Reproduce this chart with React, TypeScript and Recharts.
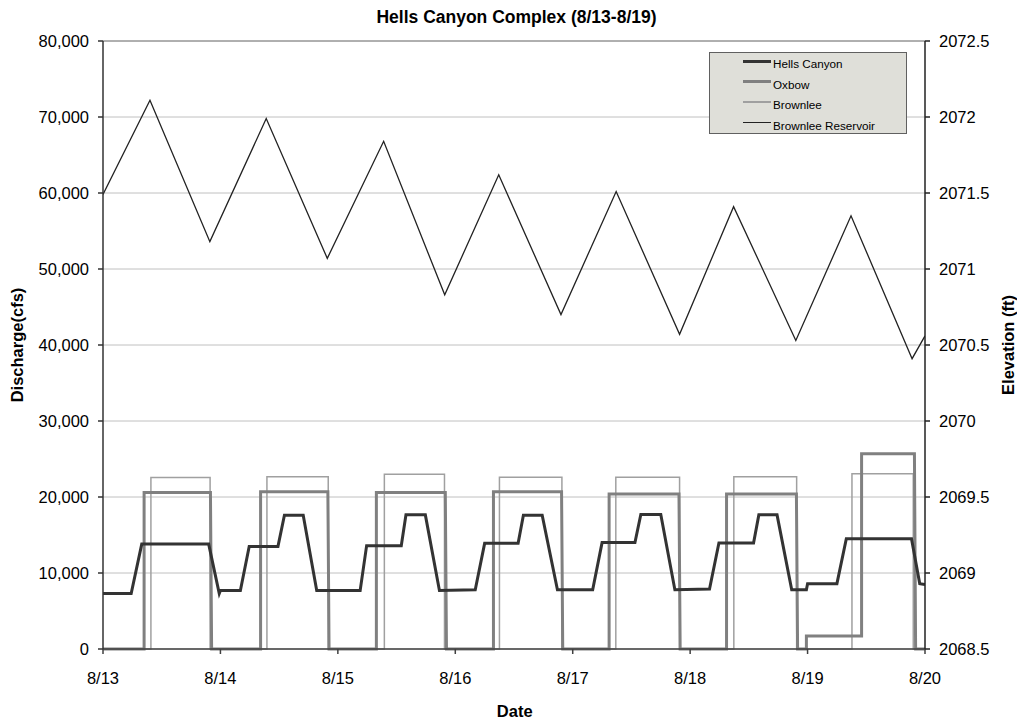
import { LineChart, Line, XAxis, YAxis, CartesianGrid, Legend, ReferenceLine } from 'recharts';

// time is in days from 8/13 00:00
const dateLabels = ['8/13', '8/14', '8/15', '8/16', '8/17', '8/18', '8/19', '8/20'];
const dayTicks = [0, 1, 2, 3, 4, 5, 6, 7];
const cfsTicks = [0, 10000, 20000, 30000, 40000, 50000, 60000, 70000, 80000];
const elevTicks = [2068.5, 2069, 2069.5, 2070, 2070.5, 2071, 2071.5, 2072, 2072.5];

const hellsCanyonTime = [0, 0.24, 0.33, 0.9, 0.99, 1.0, 1.17, 1.245, 1.49, 1.545, 1.705, 1.82, 2.19, 2.245, 2.54, 2.58, 2.745, 2.865, 3.17, 3.25, 3.535, 3.58, 3.74, 3.87, 4.17, 4.25, 4.53, 4.58, 4.75, 4.87, 5.165, 5.245, 5.54, 5.585, 5.74, 5.865, 5.99, 6.0, 6.25, 6.33, 6.885, 6.955, 7.0];
const hellsCanyonCfs = [7300, 7300, 13800, 13800, 7300, 7700, 7700, 13500, 13500, 17600, 17600, 7700, 7700, 13600, 13600, 17650, 17650, 7700, 7800, 13900, 13900, 17600, 17600, 7800, 7800, 14000, 14000, 17700, 17700, 7800, 7900, 13950, 13950, 17650, 17650, 7800, 7800, 8600, 8600, 14500, 14500, 8600, 8500];

const oxbowTime = [0, 0.35, 0.35, 0.915, 0.925, 1.342, 1.342, 1.915, 1.925, 2.328, 2.328, 2.915, 2.925, 3.325, 3.325, 3.905, 3.915, 4.31, 4.31, 4.905, 4.915, 5.31, 5.31, 5.905, 5.915, 5.99, 5.99, 6.46, 6.46, 6.91, 6.92, 7.0];
const oxbowCfs = [0, 0, 20600, 20600, 0, 0, 20700, 20700, 0, 0, 20600, 20600, 0, 0, 20700, 20700, 0, 0, 20400, 20400, 0, 0, 20400, 20400, 0, 0, 1700, 1700, 25700, 25700, 0, 0];

const brownleeTime = [0, 0.408, 0.408, 0.912, 0.912, 1.396, 1.396, 1.918, 1.918, 2.396, 2.396, 2.908, 2.908, 3.376, 3.376, 3.908, 3.908, 4.367, 4.367, 4.91, 4.91, 5.372, 5.372, 5.907, 5.907, 6.378, 6.378, 6.9, 6.9, 7.0];
const brownleeCfs = [0, 0, 22550, 22550, 0, 0, 22650, 22650, 0, 0, 23000, 23000, 0, 0, 22600, 22600, 0, 0, 22600, 22600, 0, 0, 22650, 22650, 0, 0, 23050, 23050, 0, 0];

const reservoirTime = [0, 0.4, 0.91, 1.39, 1.91, 2.39, 2.91, 3.37, 3.9, 4.37, 4.91, 5.37, 5.9, 6.37, 6.89, 7.0];
const reservoirFt = [2071.49, 2072.11, 2071.18, 2071.99, 2071.07, 2071.84, 2070.83, 2071.62, 2070.7, 2071.51, 2070.57, 2071.41, 2070.53, 2071.35, 2070.41, 2070.56];

const toPoints = (t: number[], v: number[]) => t.map((x, i) => ({ t: x, v: v[i] }));

const series = [
  { name: 'Hells Canyon', color: '#333333', width: 3 },
  { name: 'Oxbow', color: '#808080', width: 3 },
  { name: 'Brownlee', color: '#a0a0a0', width: 1.5 },
  { name: 'Brownlee Reservoir', color: '#222222', width: 1.3 },
];

const font = '"Liberation Sans", Arial, sans-serif';
const tickStyle = { fontSize: 16.5, fill: '#000', fontFamily: font };

const LegendBox = () => (
  <div
    style={{
      position: 'relative',
      width: 198,
      height: 82,
      background: '#dfdfd9',
      border: '1.5px solid #606060',
      boxSizing: 'border-box',
      fontFamily: font,
      fontSize: 11.7,
      color: '#000',
    }}
  >
    {series.map((s, i) => (
      <div key={s.name}>
        <div
          style={{
            position: 'absolute',
            left: 33,
            top: 8 + i * 20.6 - s.width / 2,
            width: 28,
            height: s.width,
            background: s.color,
          }}
        />
        <div style={{ position: 'absolute', left: 63, top: 4 + i * 20.6, lineHeight: '14px', whiteSpace: 'nowrap' }}>
          {s.name}
        </div>
      </div>
    ))}
  </div>
);

export default function App() {
  return (
    <div style={{ position: 'absolute', left: 0, top: 0, width: 1017, height: 723, background: '#fff', fontFamily: font }}>
      <LineChart width={1017} height={723} margin={{ top: 41, right: 0, bottom: 0, left: 0 }}>
        <CartesianGrid yAxisId="left" vertical={false} stroke="#c0c0c0" />
        <XAxis
          dataKey="t"
          type="number"
          domain={[0, 7]}
          ticks={dayTicks}
          tickFormatter={(d: number) => dateLabels[d]}
          height={74}
          tickSize={5}
          tickMargin={18}
          stroke="#404040"
          strokeWidth={1.5}
          tick={tickStyle}
          allowDataOverflow
        />
        <YAxis
          yAxisId="left"
          domain={[0, 80000]}
          ticks={cfsTicks}
          tickFormatter={(v: number) => v.toLocaleString('en-US')}
          width={103}
          tickSize={5}
          tickMargin={9}
          stroke="#333"
          strokeWidth={1.5}
          tick={tickStyle}
        />
        <YAxis
          yAxisId="right"
          orientation="right"
          domain={[2068.5, 2072.5]}
          ticks={elevTicks}
          width={92}
          tickSize={5}
          tickMargin={9}
          stroke="#222"
          strokeWidth={1.5}
          tick={tickStyle}
        />
        <ReferenceLine yAxisId="left" y={80000} stroke="#808080" strokeWidth={1.2} />
        <Legend
          layout="vertical"
          align="center"
          verticalAlign="middle"
          content={() => <LegendBox />}
          wrapperStyle={{ left: 709, top: 52, width: 198, height: 82 }}
        />
        <Line
          yAxisId="left"
          data={toPoints(brownleeTime, brownleeCfs)}
          dataKey="v"
          name="Brownlee"
          type="linear"
          stroke="#a0a0a0"
          strokeWidth={1.5}
          dot={false}
          isAnimationActive={false}
        />
        <Line
          yAxisId="left"
          data={toPoints(oxbowTime, oxbowCfs)}
          dataKey="v"
          name="Oxbow"
          type="linear"
          stroke="#808080"
          strokeWidth={3}
          dot={false}
          isAnimationActive={false}
        />
        <Line
          yAxisId="left"
          data={toPoints(hellsCanyonTime, hellsCanyonCfs)}
          dataKey="v"
          name="Hells Canyon"
          type="linear"
          stroke="#333333"
          strokeWidth={3}
          dot={false}
          isAnimationActive={false}
        />
        <Line
          yAxisId="right"
          data={toPoints(reservoirTime, reservoirFt)}
          dataKey="v"
          name="Brownlee Reservoir"
          type="linear"
          stroke="#222222"
          strokeWidth={1.3}
          dot={false}
          isAnimationActive={false}
        />
      </LineChart>
      <svg
        width={1017}
        height={723}
        style={{ position: 'absolute', left: 0, top: 0, pointerEvents: 'none' }}
        fontFamily={font}
        fontWeight="bold"
        fill="#000"
      >
        <text x={516.5} y={23.3} textAnchor="middle" fontSize={17.5}>
          Hells Canyon Complex (8/13-8/19)
        </text>
        <text x={514.7} y={717} textAnchor="middle" fontSize={16.5}>
          Date
        </text>
        <text transform="translate(23.3,345) rotate(-90)" textAnchor="middle" fontSize={16.5}>
          Discharge(cfs)
        </text>
        <text transform="translate(1013.5,345) rotate(-90)" textAnchor="middle" fontSize={16.5}>
          Elevation (ft)
        </text>
      </svg>
    </div>
  );
}
